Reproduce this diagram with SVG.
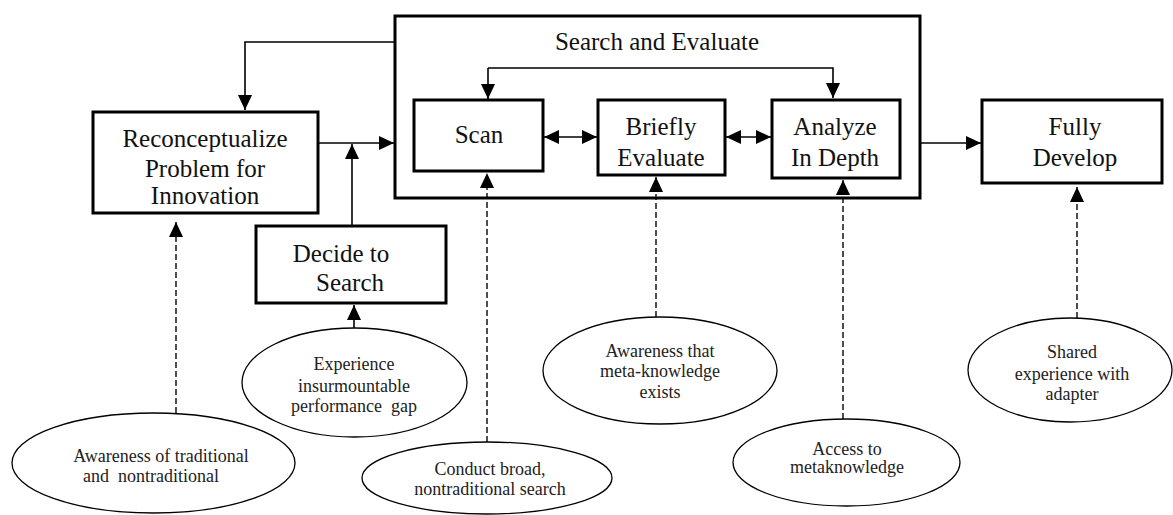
<svg xmlns="http://www.w3.org/2000/svg" width="1173" height="515" viewBox="0 0 1173 515">
<defs>
<style>
.box{fill:#fff;stroke:#000;stroke-width:3}
.outer{fill:none;stroke:#000;stroke-width:3}
.ell{fill:#fff;stroke:#000;stroke-width:1.3}
.t{font-family:"Liberation Serif","Times New Roman",serif;font-size:25px;fill:#111;text-anchor:middle}
.s{font-family:"Liberation Serif","Times New Roman",serif;font-size:18px;fill:#222;text-anchor:middle}
.ln{fill:none;stroke:#000;stroke-width:1.6}
.dash{fill:none;stroke:#222;stroke-width:1.6;stroke-dasharray:6,3}
</style>
<marker id="ah" markerWidth="16" markerHeight="14" refX="15" refY="7" orient="auto" markerUnits="userSpaceOnUse">
<path d="M0,0 L15,7 L0,14 Z" fill="#000" stroke="none"/>
</marker>
<marker id="ahs" markerWidth="16" markerHeight="14" refX="0" refY="7" orient="auto" markerUnits="userSpaceOnUse">
<path d="M15,0 L0,7 L15,14 Z" fill="#000" stroke="none"/>
</marker>
</defs>
<rect width="1173" height="515" fill="#fff"/>

<g id="connectors">
<path class="ln" d="M395,42 H245 V110" marker-end="url(#ah)"/>
<path class="ln" d="M318,143 H394" marker-end="url(#ah)"/>
<path class="ln" d="M352,226 V144" marker-end="url(#ah)"/>
<path class="ln" d="M488,68 V99" marker-end="url(#ah)"/>
<path class="ln" d="M488,68 H833 V98" marker-end="url(#ah)"/>
<path class="ln" d="M544,137 H597" marker-start="url(#ahs)" marker-end="url(#ah)"/>
<path class="ln" d="M726,137 H771" marker-start="url(#ahs)" marker-end="url(#ah)"/>
<path class="ln" d="M920,143 H981" marker-end="url(#ah)"/>
<path class="ln" d="M354,328 V305" marker-end="url(#ah)"/>
<path class="dash" d="M176,413 V222" marker-end="url(#ah)"/>
<path class="dash" d="M487,442 V173" marker-end="url(#ah)"/>
<path class="dash" d="M656,317 V177" marker-end="url(#ah)"/>
<path class="dash" d="M843,419 V180" marker-end="url(#ah)"/>
<path class="dash" d="M1077,318 V187" marker-end="url(#ah)"/>
</g>

<g id="search-evaluate">
<rect class="outer" x="395" y="16" width="525" height="182"/>
<text class="t" x="657" y="50">Search and Evaluate</text>
</g>

<g id="reconceptualize">
<rect class="box" x="93" y="112" width="225" height="101"/>
<text class="t" x="205" y="147">Reconceptualize</text>
<text class="t" x="205" y="177">Problem for</text>
<text class="t" x="205" y="204">Innovation</text>
</g>

<g id="decide">
<rect class="box" x="256" y="226" width="190" height="77"/>
<text class="t" x="341" y="262">Decide to</text>
<text class="t" x="350" y="291">Search</text>
</g>

<g id="scan">
<rect class="box" x="414" y="100" width="129" height="71"/>
<text class="t" x="479" y="143">Scan</text>
</g>

<g id="briefly">
<rect class="box" x="598" y="100" width="127" height="75"/>
<text class="t" x="661" y="135">Briefly</text>
<text class="t" x="661" y="166">Evaluate</text>
</g>

<g id="analyze">
<rect class="box" x="772" y="100" width="128" height="78"/>
<text class="t" x="835" y="135">Analyze</text>
<text class="t" x="835" y="166">In Depth</text>
</g>

<g id="fully">
<rect class="box" x="982" y="100" width="180" height="83"/>
<text class="t" x="1075" y="135">Fully</text>
<text class="t" x="1075" y="166">Develop</text>
</g>

<g id="experience">
<ellipse class="ell" cx="354.5" cy="382.5" rx="112.5" ry="54.5"/>
<text class="s" x="354" y="370">Experience</text>
<text class="s" x="354" y="392">insurmountable</text>
<text class="s" x="354" y="412" xml:space="preserve">performance  gap</text>
</g>

<g id="awareness-traditional">
<ellipse class="ell" cx="153.5" cy="463" rx="141.5" ry="50"/>
<text class="s" x="161" y="462">Awareness of traditional</text>
<text class="s" x="151" y="482" xml:space="preserve">and  nontraditional</text>
</g>

<g id="conduct">
<ellipse class="ell" cx="487" cy="478" rx="125" ry="36"/>
<text class="s" x="490" y="475">Conduct broad,</text>
<text class="s" x="490" y="495">nontraditional search</text>
</g>

<g id="awareness-meta">
<ellipse class="ell" cx="660" cy="370.5" rx="117" ry="53.5"/>
<text class="s" x="660" y="357">Awareness that</text>
<text class="s" x="660" y="377">meta-knowledge</text>
<text class="s" x="660" y="398">exists</text>
</g>

<g id="access">
<ellipse class="ell" cx="846.5" cy="462.5" rx="113.5" ry="43.5"/>
<text class="s" x="847" y="455">Access to</text>
<text class="s" x="847" y="473">metaknowledge</text>
</g>

<g id="shared">
<ellipse class="ell" cx="1070" cy="370" rx="102" ry="52"/>
<text class="s" x="1072" y="358">Shared</text>
<text class="s" x="1072" y="380">experience with</text>
<text class="s" x="1072" y="400">adapter</text>
</g>
</svg>
